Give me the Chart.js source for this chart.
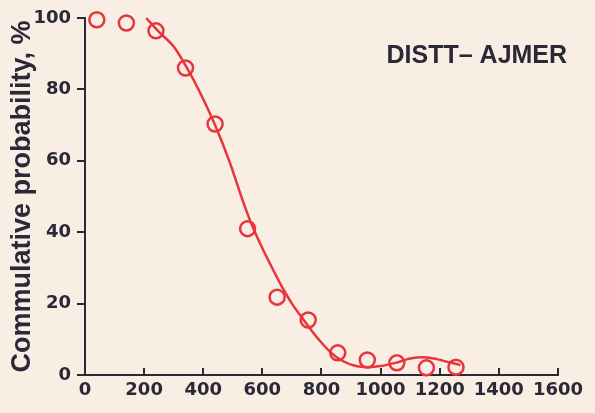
<!DOCTYPE html>
<html>
<head>
<meta charset="utf-8">
<script src="https://cdn.jsdelivr.net/npm/chart.js@4/dist/chart.umd.min.js"></script>
<style>
  html, body { margin: 0; padding: 0; background: #f8eee3; }
  #wrap { width: 595px; height: 413px; position: relative; }
</style>
</head>
<body>
<div id="wrap"><canvas id="c" width="595" height="413"></canvas></div>
<script>
// Observed points (rainfall class, cumulative probability %)
const obsX = [40, 140, 240, 340, 440, 550, 650, 755, 855, 955, 1055, 1155, 1255];
const obsY = [99.5, 98.6, 96.4, 86, 70.3, 41, 21.8, 15.4, 6.2, 4.2, 3.4, 2.0, 2.2];

// Fitted curve
const fitX = [207, 250, 300, 343, 390, 440, 490, 533, 567, 600, 630, 667, 700, 740, 790, 833, 870, 917, 960, 1000, 1050, 1100, 1140, 1180, 1230, 1270];
const fitY = [100, 96.1, 92, 86.3, 79, 70, 59.5, 49, 41.5, 35.5, 30.5, 24.6, 20, 15.4, 10, 6.2, 4, 2.5, 2.2, 2.5, 3.4, 4.6, 5, 4.6, 3.6, 2.8];

const xTicks = [0, 200, 400, 600, 800, 1000, 1200, 1400, 1600];
const yTicks = [0, 20, 40, 60, 80, 100];

const yTitle = 'Commulative probability, %';
const label = 'DISTT\u2013 AJMER';

const RED = '#e8343c';
const INK = '#2b2838';

const labelPlugin = {
  id: 'placeLabel',
  afterDatasetsDraw(chart) {
    const {ctx, scales} = chart;
    const px = scales.x.getPixelForValue(1020);
    const py = scales.y.getPixelForValue(87.4);
    ctx.save();
    ctx.fillStyle = INK;
    ctx.font = 'bold 25px "Liberation Sans", Arial, sans-serif';
    ctx.textAlign = 'left';
    ctx.textBaseline = 'alphabetic';
    ctx.fillText(label, px, py);
    ctx.restore();
  }
};

const tickFont = { family: '"DejaVu Sans"', weight: 'bold', size: 18 };

new Chart(document.getElementById('c'), {
  type: 'scatter',
  data: {
    datasets: [
      {
        type: 'line',
        data: fitX.map((x, i) => ({x, y: fitY[i]})),
        borderColor: RED,
        borderWidth: 2.5,
        pointRadius: 0,
        cubicInterpolationMode: 'monotone',
        fill: false,
        clip: false
      },
      {
        data: obsX.map((x, i) => ({x, y: obsY[i]})),
        borderColor: RED,
        backgroundColor: 'rgba(0,0,0,0)',
        borderWidth: 2.5,
        pointRadius: 7.5,
        pointHoverRadius: 7.5,
        clip: false
      }
    ]
  },
  options: {
    responsive: false,
    animation: false,
    events: [],
    layout: { padding: { top: 18, right: 30, left: 0, bottom: 0 } },
    plugins: { legend: { display: false }, tooltip: { enabled: false } },
    scales: {
      x: {
        type: 'linear',
        min: 0, max: 1600,
        afterFit(s) { s.height = 38; },
        afterBuildTicks(s) { s.ticks = xTicks.map(v => ({value: v})); },
        border: { display: true, color: INK, width: 2 },
        grid: { display: true, drawOnChartArea: false, drawTicks: true, tickLength: -7, color: INK, lineWidth: 2 },
        ticks: { color: INK, padding: 12, maxRotation: 0, font: tickFont, callback: v => String(v) }
      },
      y: {
        type: 'linear',
        min: 0, max: 100,
        afterFit(s) { s.width = 85; },
        afterBuildTicks(s) { s.ticks = yTicks.map(v => ({value: v})); },
        border: { display: true, color: INK, width: 2 },
        grid: { display: true, drawOnChartArea: false, drawTicks: true, tickLength: 8, color: INK, lineWidth: 2 },
        ticks: { color: INK, padding: 6, font: tickFont, callback: v => String(v) },
        title: {
          display: true,
          text: yTitle,
          color: INK,
          padding: { top: 6, bottom: 0 },
          font: { family: '"Liberation Sans"', weight: 'bold', size: 27 }
        }
      }
    }
  },
  plugins: [labelPlugin]
});
</script>
</body>
</html>
